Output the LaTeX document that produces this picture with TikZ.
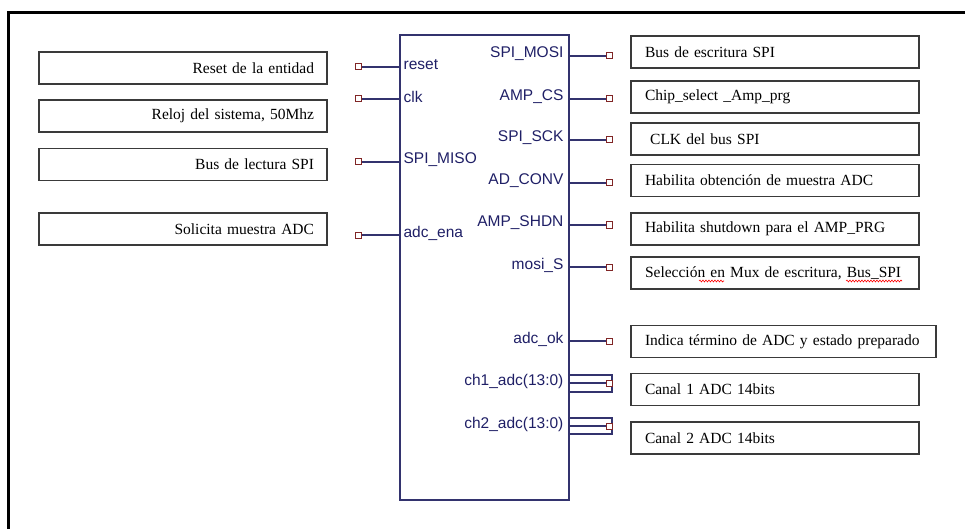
\documentclass[tikz,border=0pt]{standalone}
\usepackage{fontspec}
\setmainfont{Liberation Serif}
\setsansfont{Liberation Sans}
\usepackage{tikz}
\usetikzlibrary{decorations.pathmorphing}
\definecolor{wirec}{HTML}{33336E}
\definecolor{sigc}{HTML}{1F1F66}
\definecolor{pinc}{HTML}{802626}
\definecolor{boxc}{HTML}{3A3A3A}

\begin{document}
\begin{tikzpicture}[x=1pt,y=-1pt,
	wire/.style={draw=wirec,line width=1.2pt},
	pin/.style={draw=pinc,fill=white,rectangle,minimum size=6pt,inner sep=0pt,line width=1pt},
	sig/.style={text=sigc,font=\sffamily\fontsize{15.5}{18}\selectfont,inner sep=0pt},
	note/.style={draw=boxc,line width=1.5pt,minimum height=32pt,inner ysep=0pt,
		font=\fontsize{15.5}{18}\selectfont},
	leftnote/.style={note,inner xsep=13pt,text width=262pt,align=right},
	rightnote/.style={note,inner xsep=14pt,text width=260pt,align=left},
	squig/.style={draw=red,line width=0.6pt,decorate,
		decoration={snake,amplitude=0.9pt,segment length=3pt}}]
	\useasboundingbox (0,0) rectangle (965,529);
	\draw[line width=3pt] (8.5,529) -- (8.5,12.5) -- (965,12.5);
	\node[draw=wirec,line width=1.2pt,minimum width=169pt,minimum height=465pt,inner sep=0pt] (ent) at (484.5,267.5) {};
	\foreach \nm/\lbl/\y in {rst/reset/67, clk/clk/99, miso/SPI\_MISO/162, ena/adc\_ena/235}{
		\node[pin] (p\nm) at (358,\y) {};
		\draw[wire] (p\nm) -- (p\nm -| ent.west);
		\node[sig,anchor=west,xshift=4pt,yshift=2pt] at (p\nm -| ent.west) {\lbl};
	}
	\foreach \nm/\lbl/\y in {mosi/SPI\_MOSI/56, cs/AMP\_CS/99, sck/SPI\_SCK/140, conv/AD\_CONV/183,
		shdn/AMP\_SHDN/225, mos/mosi\_S/267, ok/adc\_ok/341, cha/ch1\_adc(13:0)/383, chb/ch2\_adc(13:0)/426}{
		\node[pin] (p\nm) at (609,\y) {};
		\draw[wire] (p\nm -| ent.east) -- (p\nm);
		\node[sig,anchor=east,xshift=-6pt,yshift=2pt] at (p\nm -| ent.east) {\lbl};
	}
	\draw[wire] ([yshift=8pt]pcha -| ent.east) rectangle ([xshift=3pt,yshift=-9pt]pcha.center);
	\draw[wire] ([yshift=8pt]pchb -| ent.east) rectangle ([xshift=3pt,yshift=-8pt]pchb.center);
	\node[pin] at (pcha) {};
	\node[pin] at (pchb) {};
	\node[leftnote] (nrst) at (183,68) {Reset de la entidad};
	\node[leftnote] (nclk) at (183,116) {Reloj del sistema, 50Mhz};
	\node[leftnote] (nmiso) at (183,164.5) {Bus de lectura SPI};
	\node[leftnote] (nena) at (183,229) {Solicita muestra ADC};
	\node[rightnote] (nmosi) at (775,52) {Bus de escritura SPI};
	\node[rightnote] (ncs) at (775,97) {Chip\_select \_Amp\_prg};
	\node[rightnote] (nsck) at (775,139) {\ CLK del bus SPI};
	\node[rightnote] (nconv) at (775,180.5) {Habilita obtención de muestra ADC};
	\node[rightnote] (nshdn) at (775,229) {Habilita shutdown para el AMP\_PRG};
	\node[rightnote] (nmos) at (775,273) {Selección en Mux de escritura, Bus\_SPI};
	\node[rightnote,text width=277pt] (nok) at (783.5,341.5) {Indica término de ADC y estado preparado};
	\node[rightnote] (ncha) at (775,389.5) {Canal 1 ADC 14bits};
	\node[rightnote] (nchb) at (775,438) {Canal 2 ADC 14bits};
	\draw[squig] (699,281) -- (724,281);
	\draw[squig] (846,281) -- (902,281);
\end{tikzpicture}
\end{document}
